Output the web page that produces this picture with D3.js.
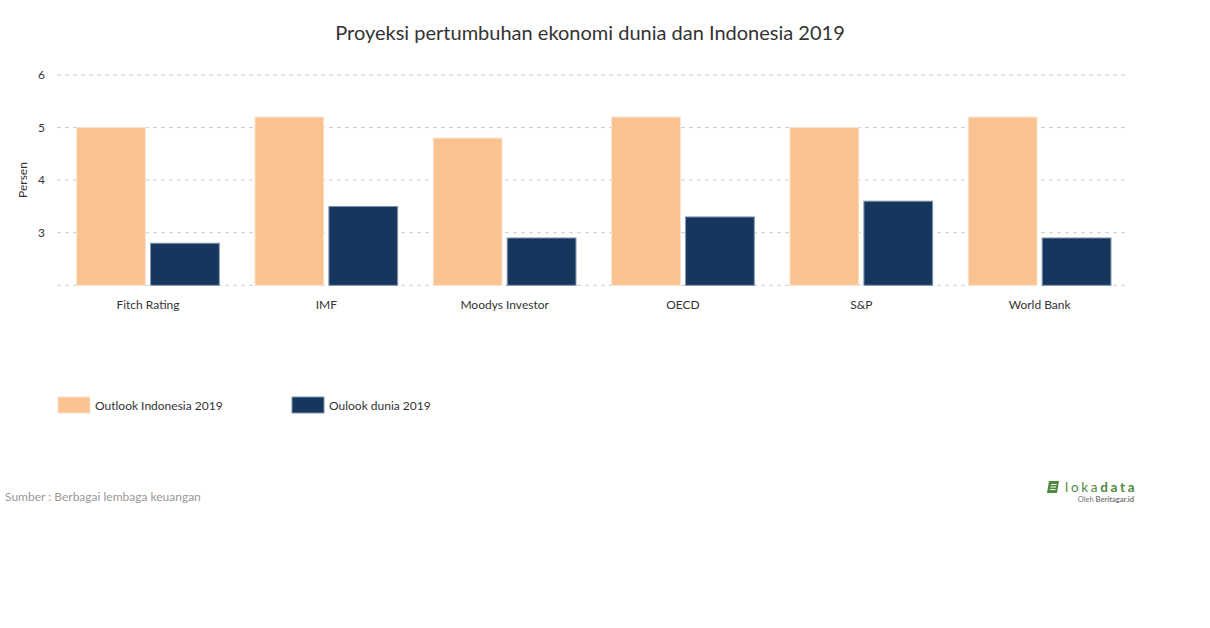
<!DOCTYPE html>
<html><head><meta charset="utf-8">
<script src="https://cdn.jsdelivr.net/npm/d3@7"></script>
<style>body{margin:0;background:#fff;font-family:Lato,sans-serif}</style>
</head><body><svg id="c" width="1210" height="628"></svg>
<script>
const categories = ["Fitch Rating","IMF","Moodys Investor","OECD","S&P","World Bank"];
const seriesNames = ["Outlook Indonesia 2019","Oulook dunia 2019"];
const indonesia = [5.0,5.2,4.8,5.2,5.0,5.2];
const dunia = [2.8,3.5,2.9,3.3,3.6,2.9];
const yTicks = [2,3,4,5,6];
const colors = ["#F9C290","#17365D"];
const strokes = ["#FBE3CC","#7F93AE"];

const svg = d3.select("#c");
const ml=57, mr=1127, mt=75, mb=285.3;
const x = d3.scaleBand().domain(categories).range([ml+1.8,mr+1.8]).paddingInner(0.2).paddingOuter(0.1);
const xs = d3.scaleBand().domain([0,1]).range([0,x.bandwidth()]).paddingInner(0.07);
const y = d3.scaleLinear().domain([2,6]).range([mb,mt]);

svg.append("text").attr("x",590).attr("y",40).attr("text-anchor","middle")
  .attr("font-size",20).attr("fill","#333").text("Proyeksi pertumbuhan ekonomi dunia dan Indonesia 2019");

// grid
svg.append("g").selectAll("line").data(yTicks).join("line")
  .attr("x1",ml).attr("x2",mr).attr("y1",d=>y(d)).attr("y2",d=>y(d))
  .attr("stroke","#ccc").attr("stroke-dasharray","4,4");
svg.append("g").selectAll("text").data(yTicks.filter(d=>d>2)).join("text")
  .attr("x",45).attr("y",d=>y(d)+4).attr("text-anchor","end")
  .attr("font-size",12).attr("fill","#333").text(d=>d);
svg.append("text").attr("transform","translate(27,180) rotate(-90)").attr("text-anchor","middle")
  .attr("font-size",12).attr("fill","#333").text("Persen");

const data = [indonesia, dunia];
data.forEach((vals,si)=>{
  svg.append("g").selectAll("rect").data(vals).join("rect")
    .attr("x",(d,i)=>x(categories[i])+xs(si))
    .attr("width",xs.bandwidth())
    .attr("y",d=>y(d)).attr("height",d=>y(2)-y(d))
    .attr("fill",colors[si]).attr("stroke",strokes[si]).attr("stroke-width",1);
});

svg.append("g").selectAll("text").data(categories).join("text")
  .attr("x",d=>x(d)+x.bandwidth()/2).attr("y",309).attr("text-anchor","middle")
  .attr("font-size",12).attr("fill","#333").text(d=>d);

// legend
const lx=[58,292];
seriesNames.forEach((n,i)=>{
  svg.append("rect").attr("x",lx[i]).attr("y",397).attr("width",32).attr("height",16)
    .attr("fill",colors[i]).attr("stroke",strokes[i]);
  svg.append("text").attr("x",lx[i]+37).attr("y",410).attr("font-size",12).attr("fill","#333").text(n);
});

svg.append("text").attr("x",5).attr("y",501).attr("font-size",12).attr("fill","#999")
  .text("Sumber : Berbagai lembaga keuangan");

// logo
const lg = svg.append("g").attr("transform","translate(1047,481)");
lg.append("path").attr("d","M2,0 L12,0 L10,12 L0,12 Z").attr("fill","#4E8A3E");
lg.append("path").attr("d","M4,3.5 L9.5,3.5 M3.5,6 L9,6 M3,8.5 L8.5,8.5").attr("stroke","#fff").attr("stroke-width",1);
lg.append("text").attr("x",18).attr("y",11).attr("font-size",13.5).attr("fill","#4E8A3E").attr("letter-spacing",2.7)
  .html('loka<tspan font-weight="bold">data</tspan>');
lg.append("text").attr("x",87).attr("y",20.5).attr("text-anchor","end").attr("font-size",7.5).attr("fill","#777")
  .html('Oleh <tspan font-weight="bold">Beritagar.id</tspan>');
</script></body></html>
